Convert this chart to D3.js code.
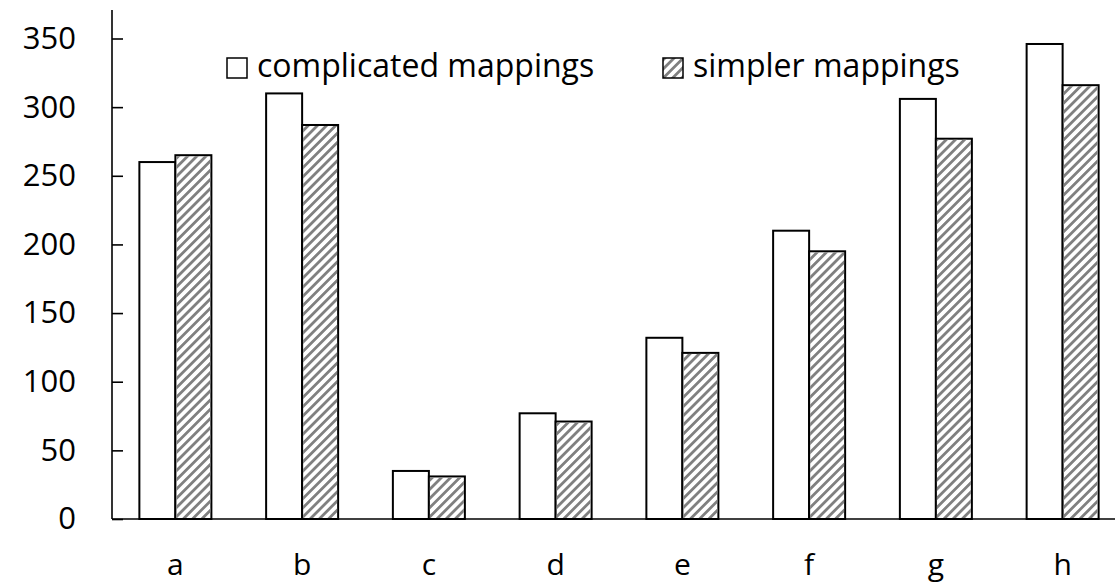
<!DOCTYPE html>
<html>
<head>
<meta charset="utf-8">
<script src="https://cdn.jsdelivr.net/npm/d3@7"></script>
<style>
  body { margin: 0; background: #fff; }
  svg text { font-family: "Open Sans", sans-serif; fill: #000; }
</style>
</head>
<body>
<div id="chart"></div>
<script>
// data
const categories = ['a', 'b', 'c', 'd', 'e', 'f', 'g', 'h'];
const seriesNames = ['complicated mappings', 'simpler mappings'];
const complicatedValues = [260, 310, 35, 77, 132, 210, 306, 346];
const simplerValues = [265, 287, 31, 71, 121, 195, 277, 316];
const yTicks = [0, 50, 100, 150, 200, 250, 300, 350];

const width = 1115, height = 585;
const x0 = 112, xEnd = 1126, yZero = 519, yTop = 38.5;
const barW = 36;

const svg = d3.select('#chart').append('svg')
    .attr('width', width)
    .attr('height', height);

// hatch for the second series
const defs = svg.append('defs');
defs.append('pattern')
    .attr('id', 'hatch')
    .attr('patternUnits', 'userSpaceOnUse')
    .attr('width', 6.5)
    .attr('height', 6.5)
    .attr('patternTransform', 'rotate(45)')
  .append('rect')
    .attr('x', 0)
    .attr('y', 0)
    .attr('width', 2.8)
    .attr('height', 6.5)
    .attr('fill', '#808080');

const x = d3.scaleBand()
    .domain(categories)
    .range([x0, xEnd])
    .padding(0);

const y = d3.scaleLinear()
    .domain([0, 350])
    .range([yZero, yTop]);

const rows = categories.map((c, i) => ({cat: c, vals: [complicatedValues[i], simplerValues[i]]}));

// bars
const groups = svg.append('g').selectAll('g')
    .data(rows)
  .enter().append('g')
    .attr('transform', d => 'translate(' + x(d.cat) + ',0)');

groups.selectAll('rect.bar')
    .data(d => d.vals.map((v, k) => ({k: k, v: v})))
  .enter().append('rect')
    .attr('class', 'bar')
    .attr('x', d => x.bandwidth() / 2 - barW + d.k * barW)
    .attr('y', d => y(d.v))
    .attr('width', barW)
    .attr('height', d => yZero - y(d.v))
    .attr('fill', '#fff')
    .attr('stroke', '#000')
    .attr('stroke-width', 2);

groups.selectAll('rect.hatch')
    .data(d => [d.vals[1]])
  .enter().append('rect')
    .attr('class', 'hatch')
    .attr('x', x.bandwidth() / 2 + 1)
    .attr('y', d => y(d) + 1)
    .attr('width', barW - 2)
    .attr('height', d => yZero - y(d) - 2)
    .attr('fill', 'url(#hatch)');

// y axis
const yAxis = svg.append('g')
    .attr('transform', 'translate(' + x0 + ',0)')
    .call(d3.axisRight(y).tickValues(yTicks).tickSize(11).tickFormat(d3.format('d')));
yAxis.select('.domain')
    .attr('d', 'M0,10V' + yZero)
    .attr('stroke', '#000')
    .attr('stroke-width', 1.6);
yAxis.selectAll('.tick line').attr('stroke', '#000').attr('stroke-width', 1.6);
yAxis.selectAll('.tick text')
    .attr('x', -36)
    .attr('text-anchor', 'end')
    .attr('font-size', '31px')
    .attr('font-family', '"Open Sans", sans-serif');

// x axis line
svg.append('line')
    .attr('x1', x0)
    .attr('x2', width)
    .attr('y1', yZero)
    .attr('y2', yZero)
    .attr('stroke', '#000')
    .attr('stroke-width', 1.6);

// category labels
svg.append('g').selectAll('text')
    .data(categories)
  .enter().append('text')
    .attr('x', d => x(d) + x.bandwidth() / 2)
    .attr('y', 575)
    .attr('text-anchor', 'middle')
    .attr('font-size', '30px')
    .text(d => d);

// legend
const legendX = [227, 663];
const legend = svg.append('g').selectAll('g')
    .data(seriesNames)
  .enter().append('g')
    .attr('transform', (d, i) => 'translate(' + legendX[i] + ',58)');
legend.append('rect')
    .attr('width', 20)
    .attr('height', 20)
    .attr('fill', (d, i) => i === 0 ? '#fff' : 'url(#hatch)')
    .attr('stroke', '#000')
    .attr('stroke-width', 1.5);
legend.append('text')
    .attr('x', 30)
    .attr('y', 19)
    .attr('font-size', '32px')
    .text(d => d);
</script>
</body>
</html>
